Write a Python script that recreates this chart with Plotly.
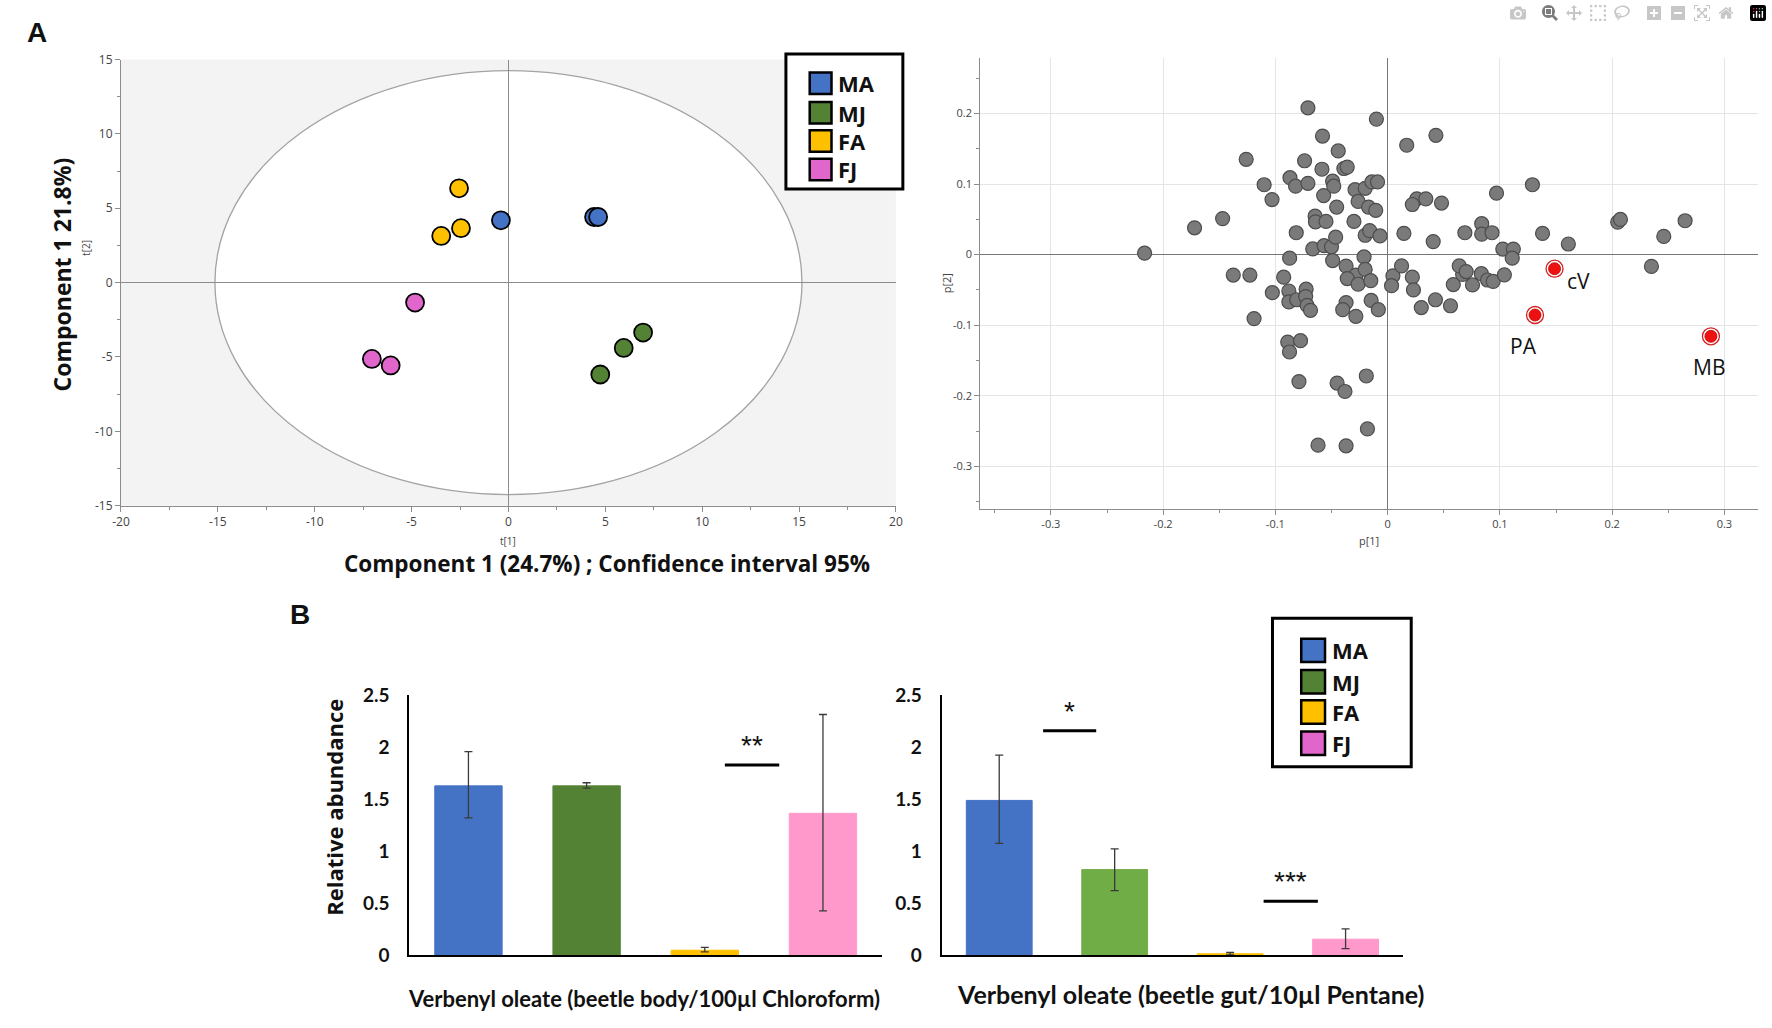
import plotly.graph_objects as go

W, H = 1772, 1028

# ---- data ----
groups = ["MA", "MJ", "FA", "FJ"]
group_colors = ["#4472C4", "#548235", "#FFC000", "#E066CC"]

# PCA scores (t[1], t[2]) per group
ma_t1 = [-0.39, 4.42, 4.63]
ma_t2 = [4.19, 4.41, 4.41]
mj_t1 = [6.95, 5.95, 4.74]
mj_t2 = [-3.36, -4.39, -6.18]
fa_t1 = [-2.55, -2.45, -3.47]
fa_t2 = [6.34, 3.66, 3.14]
fj_t1 = [-4.82, -7.05, -6.08]
fj_t2 = [-1.34, -5.13, -5.57]

# Hotelling T2 (95%) ellipse half-axes
ellipse_a = 15.15
ellipse_b = 14.25

# loadings p[1], p[2]
load_p1 = [
    -0.071, -0.010, -0.058, 0.043, 0.017, -0.044, -0.126, -0.074, -0.0585, -0.039,
    -0.036, -0.087, -0.082, -0.110, -0.071, -0.049, -0.048, 0.129, 0.097, -0.029,
    -0.020, -0.014, -0.009,
    -0.2165, -0.172, -0.147, -0.103, -0.1375, -0.1227, -0.119, -0.1027, -0.0926, -0.0873,
    -0.0814, -0.088, -0.088, -0.081, -0.0726, -0.073, -0.0717, -0.0687, -0.0667, -0.0566,
    -0.050, -0.0463, -0.0646, -0.0643, -0.0549, -0.0454, -0.057, -0.030, -0.0263, -0.017,
    -0.0106, -0.020, -0.016, -0.0068, -0.049, -0.037, -0.021, -0.0283, -0.020, -0.036,
    -0.0263, -0.015, -0.037, -0.040, -0.0283, -0.0147, -0.0083, -0.089, -0.0776, 0.0047,
    0.0035, 0.0124, 0.0145,
    -0.0874, -0.079, -0.045, -0.038, -0.019, -0.018, -0.062, -0.037,
    0.026, 0.022, 0.034, 0.048, 0.0406, 0.0688, 0.0838, 0.0838, 0.093, 0.138,
    0.161, 0.1026, 0.112, 0.111, 0.022, 0.023, 0.030, 0.0426, 0.056, 0.0585,
    0.0668, 0.0638, 0.070, 0.0756, 0.0835, 0.089, 0.094, 0.104,
    0.205, 0.2074, 0.246, 0.265, 0.235,
]
load_p2 = [
    0.208, 0.192, 0.168, 0.169, 0.155, 0.147, 0.135, 0.133, 0.121, 0.122,
    0.124, 0.109, 0.097, 0.099, 0.101, 0.104, 0.097, 0.099, 0.087, 0.092,
    0.094, 0.103, 0.103,
    0.002, 0.038, 0.051, 0.078, -0.029, -0.029, -0.0907, -0.054, -0.032, -0.005,
    0.031, -0.0516, -0.067, -0.064, -0.049, -0.0595, -0.072, -0.079, 0.008, 0.0126,
    0.011, 0.0247, 0.0544, 0.0465, 0.047, 0.0674, 0.0837, 0.047, 0.0753, 0.0674,
    0.0628, 0.0274, 0.034, 0.0265, -0.0084, -0.0163, -0.0033, -0.029, -0.021, -0.034,
    -0.042, -0.037, -0.068, -0.078, -0.0874, -0.065, -0.078, -0.124, -0.122, -0.030,
    -0.044, -0.016, 0.030,
    -0.138, -0.180, -0.182, -0.194, -0.172, -0.247, -0.270, -0.271,
    0.079, 0.071, 0.079, 0.073, 0.0184, 0.031, 0.0438, 0.029, 0.031, 0.030,
    0.015, 0.0078, 0.0078, -0.0051, -0.032, -0.050, -0.075, -0.064, -0.0725, -0.0425,
    -0.028, -0.016, -0.024, -0.043, -0.027, -0.036, -0.038, -0.0287,
    0.046, 0.0498, 0.0258, 0.048, -0.0167,
]

hl_names = ["cV", "PA", "MB"]
hl_p1 = [0.1487, 0.1313, 0.288]
hl_p2 = [-0.020, -0.0856, -0.1158]

# bar charts: mean and error bar ends
bar_colors_body = ["#4472C4", "#548235", "#FFC000", "#FF99CC"]
bar_colors_gut = ["#4472C4", "#70AD47", "#FFC000", "#FF99CC"]
body_mean = [1.63, 1.63, 0.05, 1.366]
body_hi = [1.96, 1.66, 0.078, 2.316]
body_lo = [1.322, 1.609, 0.034, 0.428]
gut_mean = [1.49, 0.825, 0.016, 0.156]
gut_hi = [1.925, 1.025, 0.028, 0.256]
gut_lo = [1.078, 0.622, 0.006, 0.066]

# significance bars: (x from, x to, y, label)
body_sig = [(2.17, 2.63, 1.83, "**")]
gut_sig = [(0.38, 0.84, 2.16, "*"), (2.29, 2.76, 0.52, "***")]


def px(p):
    return min(1.0, max(0.0, p / W))


def py(p):
    return min(1.0, max(0.0, 1 - p / H))


fig = go.Figure()

# ---- score plot ----
score_sets = [(ma_t1, ma_t2), (mj_t1, mj_t2), (fa_t1, fa_t2), (fj_t1, fj_t2)]
for name, col, (tx, ty) in zip(groups, group_colors, score_sets):
    fig.add_trace(go.Scatter(
        x=tx, y=ty, mode="markers", name=name, xaxis="x", yaxis="y",
        marker=dict(size=18, color=col, line=dict(color="black", width=1.8)),
    ))

# ---- loading plot ----
fig.add_trace(go.Scatter(
    x=load_p1, y=load_p2, mode="markers", xaxis="x2", yaxis="y2",
    marker=dict(size=14, color="#7a7a7a", line=dict(color="#4d4d4d", width=1.2)),
))
fig.add_trace(go.Scatter(
    x=hl_p1, y=hl_p2, mode="markers", xaxis="x2", yaxis="y2",
    marker=dict(size=17, color="white", line=dict(color="#d42020", width=1.3)),
))
fig.add_trace(go.Scatter(
    x=hl_p1, y=hl_p2, mode="markers", xaxis="x2", yaxis="y2",
    marker=dict(size=12, color="#ee1111", line=dict(color="#c00000", width=0.8)),
))


# ---- bar charts ----
def bar_trace(mean, hi, lo, colors, xa, ya):
    return go.Bar(
        x=groups, y=mean, xaxis=xa, yaxis=ya, width=0.57,
        marker=dict(color=colors, line=dict(color=colors, width=1)),
        error_y=dict(type="data", symmetric=False,
                     array=[h - m for h, m in zip(hi, mean)],
                     arrayminus=[m - l for m, l in zip(mean, lo)],
                     color="#3a3a3a", thickness=1.3, width=4),
    )


fig.add_trace(bar_trace(body_mean, body_hi, body_lo, bar_colors_body, "x3", "y3"))
fig.add_trace(bar_trace(gut_mean, gut_hi, gut_lo, bar_colors_gut, "x4", "y4"))

# ---- axes ----
tick_small = dict(family="Open Sans", size=12, color="#444")
score_ax = dict(showgrid=False, zeroline=True, zerolinecolor="#8c8c8c", zerolinewidth=1,
                showline=True, linecolor="#8c8c8c", ticks="outside", ticklen=5,
                tickcolor="#8c8c8c", tickfont=tick_small)
xt = list(range(-20, 21, 5))
yt = list(range(-15, 16, 5))
fig.update_layout(
    xaxis=dict(score_ax, domain=[px(113), px(895)], range=[-20, 20], anchor="y",
               tickvals=xt, ticktext=[str(v) for v in xt],
               minor=dict(ticks="outside", ticklen=3, tickcolor="#8c8c8c", dtick=2.5)),
    yaxis=dict(score_ax, domain=[py(505), py(48.6)], range=[-15, 15], anchor="x",
               tickvals=yt, ticktext=[str(v) for v in yt],
               minor=dict(ticks="outside", ticklen=3, tickcolor="#8c8c8c", dtick=2.5)),
)

p1_ticks = [-0.3, -0.2, -0.1, 0, 0.1, 0.2, 0.3]
p2_ticks = [-0.3, -0.2, -0.1, 0, 0.1, 0.2]
half_ticks = [-0.35, -0.25, -0.15, -0.05, 0.05, 0.15, 0.25]
load_ax = dict(showgrid=True, gridcolor="#e4e4e4", gridwidth=1.2, zeroline=True,
               zerolinecolor="#777", zerolinewidth=1, showline=True, linecolor="#8c8c8c",
               ticks="outside", ticklen=5, tickcolor="#8c8c8c",
               tickfont=dict(family="Open Sans", size=11, color="#444"),
               minor=dict(ticks="outside", ticklen=3, tickcolor="#8c8c8c",
                          tickvals=half_ticks, showgrid=False))
fig.update_layout(
    xaxis2=dict(load_ax, domain=[px(980), px(1765)], range=[-0.363, 0.33], anchor="y2",
                tickvals=p1_ticks, ticktext=[f"{v:g}" for v in p1_ticks]),
    yaxis2=dict(load_ax, domain=[py(508), py(47.5)], range=[-0.36, 0.278], anchor="x2",
                tickvals=p2_ticks, ticktext=[f"{v:g}" for v in p2_ticks]),
)

bar_y_ticks = [0, 0.5, 1, 1.5, 2, 2.5]
bar_tickfont = dict(family="Lato", size=19, color="#111", weight="bold")
bar_x = dict(range=[-0.5, 3.5], showticklabels=False, showline=True, linecolor="black",
             linewidth=2, ticks="", showgrid=False, zeroline=False)
bar_y = dict(range=[0, 2.5], showline=True, linecolor="black", linewidth=2, ticks="",
             showgrid=False, zeroline=False, tickvals=bar_y_ticks,
             ticktext=[f"{v:g}" for v in bar_y_ticks], tickfont=bar_tickfont,
             ticklabelstandoff=14)
fig.update_layout(
    xaxis3=dict(bar_x, domain=[px(404), px(881)], anchor="y3"),
    yaxis3=dict(bar_y, domain=[py(965), py(699)], anchor="x3"),
    xaxis4=dict(bar_x, domain=[px(941), px(1407)], anchor="y4"),
    yaxis4=dict(bar_y, domain=[py(965), py(699)], anchor="x4"),
)

# ---- shapes ----
shapes = [
    dict(type="rect", xref="x domain", yref="y domain", x0=0, x1=1, y0=0, y1=1,
         fillcolor="#f3f3f3", line_width=0, layer="below"),
    dict(type="circle", xref="x", yref="y", x0=-ellipse_a, x1=ellipse_a,
         y0=-ellipse_b, y1=ellipse_b, fillcolor="white",
         line=dict(color="#a3a3a3", width=1.3), layer="below"),
]
for xa, ya, sigs in (("x3", "y3", body_sig), ("x4", "y4", gut_sig)):
    for x0, x1, yv, _ in sigs:
        shapes.append(dict(type="line", xref=xa, yref=ya, x0=x0, x1=x1, y0=yv, y1=yv,
                           line=dict(color="black", width=3)))

annotations = []


def note(text, x, y, size, bold=False, family="Open Sans", angle=0, color="#111",
         xanchor="center", yanchor="middle"):
    annotations.append(dict(
        text=text, x=x, y=y, xref="paper", yref="paper", showarrow=False,
        textangle=angle, xanchor=xanchor, yanchor=yanchor,
        font=dict(family=family, size=size, color=color,
                  weight="bold" if bold else "normal")))


# legends drawn as boxes
def legend_box(x0, y0, x1, y1, sq_x0, sq_x1, rows, text_x, size):
    shapes.append(dict(type="rect", xref="paper", yref="paper", x0=px(x0), x1=px(x1),
                       y0=py(y1), y1=py(y0), fillcolor="white",
                       line=dict(color="black", width=3)))
    half = (sq_x1 - sq_x0) / 2
    for name, col, ry in zip(groups, group_colors, rows):
        shapes.append(dict(type="rect", xref="paper", yref="paper", x0=px(sq_x0), x1=px(sq_x1),
                           y0=py(ry + half), y1=py(ry - half), fillcolor=col,
                           line=dict(color="black", width=2.5)))
        note(name, px(text_x), py(ry), size, bold=True, xanchor="left")


legend_box(784, 43, 902, 181, 808, 830, [73, 103, 132, 161], 835, 22)
legend_box(1275, 620, 1415, 772, 1304, 1328, [653, 685, 716, 748], 1333, 22)

# panel letters and titles
note("A", px(28), py(21), 28, bold=True, family="Liberation Sans")
note("B", px(294), py(616), 28, bold=True, family="Liberation Sans")
note("Component 1 21.8%)", px(53), py(269), 23, bold=True, angle=-90)
note("t[2]", px(77), py(241), 10, angle=-90, color="#444")
note("t[1]", px(504), py(541), 10, color="#444")
note("Component 1 (24.7%) ; Confidence interval 95%", px(603), py(564), 22.5, bold=True)
note("p[2]", px(946), py(277), 11, angle=-90, color="#444")
note("p[1]", px(1372), py(541), 11, color="#444")
note("Relative abundance", px(328), py(814), 22, bold=True, angle=-90)
note("Verbenyl oleate (beetle body/100µl Chloroform)", px(641), py(1009), 22, bold=True,
     family="Lato")
note("Verbenyl oleate (beetle gut/10µl Pentane)", px(1192), py(1004), 25, bold=True,
     family="Lato")

# labels of highlighted loadings
label_shift = {"cV": (10, -12, "left"), "PA": (-12, -31, "center"), "MB": (-2, -31, "center")}
for name, lx, ly in zip(hl_names, hl_p1, hl_p2):
    dx, dy, anc = label_shift[name]
    annotations.append(dict(text=name, x=lx, y=ly, xref="x2", yref="y2", showarrow=False,
                            xshift=dx, yshift=dy, xanchor=anc,
                            font=dict(family="Open Sans", size=21, color="#111")))

# significance labels
for xa, ya, sigs in (("x3", "y3", body_sig), ("x4", "y4", gut_sig)):
    for x0, x1, yv, lab in sigs:
        annotations.append(dict(text=lab, x=(x0 + x1) / 2, y=yv, xref=xa, yref=ya,
                                showarrow=False, yanchor="bottom", yshift=2,
                                font=dict(family="Liberation Sans", size=28, color="#111")))

fig.update_layout(
    width=W, height=H, margin=dict(l=0, r=0, t=0, b=0),
    plot_bgcolor="white", paper_bgcolor="white", showlegend=False,
    font=dict(family="Open Sans", color="#222"),
    shapes=shapes, annotations=annotations,
)

# drop the default body margin so the figure sits at the window's corner
fig.write_html(
    "out.html",
    post_script="document.body.style.margin='0';document.body.style.padding='0';"
                "document.documentElement.style.overflow='hidden';",
)
